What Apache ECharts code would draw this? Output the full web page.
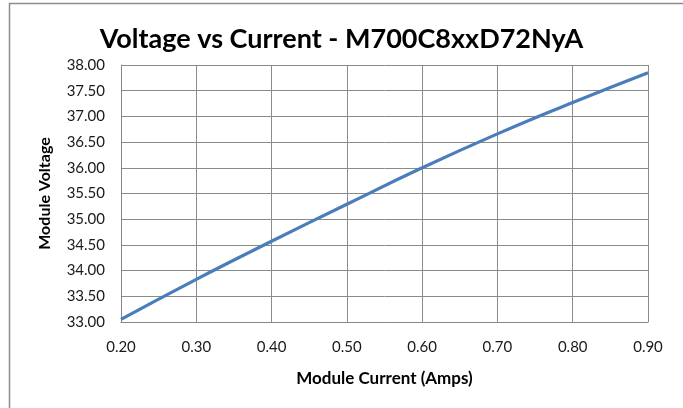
<!DOCTYPE html>
<html>
<head>
<meta charset="utf-8">
<script src="https://cdn.jsdelivr.net/npm/echarts@6/dist/echarts.min.js"></script>
<style>
html,body{margin:0;padding:0;background:#fff;}
#chart{width:683px;height:408px;}
</style>
</head>
<body>
<div id="chart"></div>
<script>
var titleText = "Voltage vs Current - M700C8xxD72NyA";
var xAxisName = "Module Current (Amps)";
var yAxisName = "Module Voltage";
var currents = [0.20, 0.30, 0.40, 0.50, 0.60, 0.70, 0.80, 0.90];
var voltages = [33.05, 33.83, 34.57, 35.29, 36.00, 36.66, 37.27, 37.85];

var chart = echarts.init(document.getElementById('chart'), null, {renderer: 'canvas'});
var fontFam = 'Lato, "Open Sans", sans-serif';
var option = {
  animation: false,
  backgroundColor: '#ffffff',
  graphic: [{
    type: 'rect',
    shape: {x: 9.5, y: 3.5, width: 800, height: 600},
    style: {fill: 'none', stroke: '#8c8c8c', lineWidth: 1.5},
    silent: true
  }],
  title: {
    text: titleText,
    left: 'center',
    top: 21,
    textStyle: {fontFamily: fontFam, fontSize: 27, fontWeight: 'bold', color: '#000'}
  },
  grid: {left: 121, right: 35, top: 65, bottom: 86, containLabel: false},
  xAxis: {
    type: 'value',
    min: 0.2, max: 0.9, interval: 0.1,
    name: xAxisName,
    nameLocation: 'middle',
    nameGap: 48,
    nameTextStyle: {fontFamily: fontFam, fontSize: 17, fontWeight: 'bold', color: '#000'},
    axisLine: {show: true, lineStyle: {color: '#868686', width: 1}},
    axisTick: {show: false},
    axisLabel: {
      fontFamily: fontFam, fontSize: 15, color: '#1a1a1a', margin: 18,
      formatter: function (v) { return v.toFixed(2); }
    },
    splitLine: {show: true, lineStyle: {color: '#8a8a8a', width: 1}}
  },
  yAxis: {
    type: 'value',
    min: 33, max: 38, interval: 0.5,
    name: yAxisName,
    nameLocation: 'middle',
    nameGap: 68,
    nameTextStyle: {fontFamily: fontFam, fontSize: 16, fontWeight: 'bold', color: '#000'},
    axisLine: {show: true, lineStyle: {color: '#868686', width: 1}},
    axisTick: {show: false},
    axisLabel: {
      fontFamily: fontFam, fontSize: 15, color: '#1a1a1a', margin: 16,
      formatter: function (v) { return v.toFixed(2); }
    },
    splitLine: {show: true, lineStyle: {color: '#8a8a8a', width: 1}}
  },
  series: [{
    type: 'line',
    data: currents.map(function (c, i) { return [c, voltages[i]]; }),
    smooth: true,
    showSymbol: false,
    lineStyle: {color: '#4a7ebb', width: 3.2}
  }]
};
chart.setOption(option);
</script>
</body>
</html>
